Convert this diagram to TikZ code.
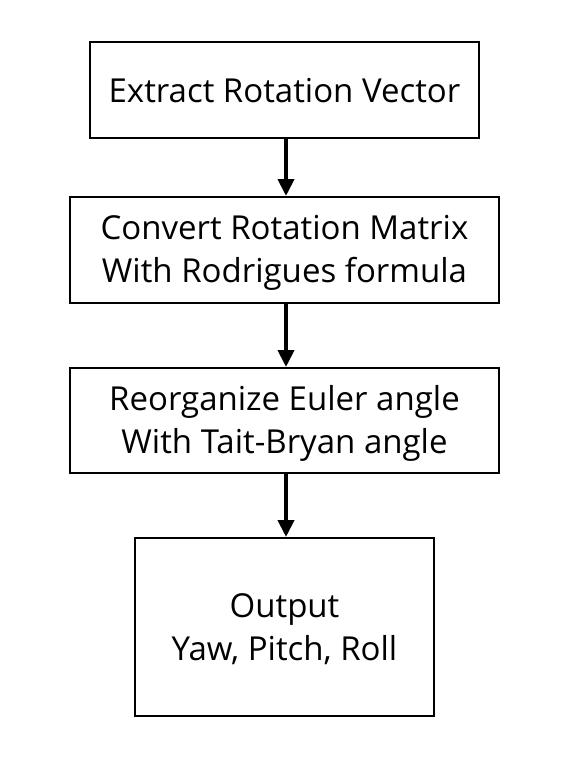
\documentclass[tikz,border=0pt]{standalone}
\usepackage{fontspec}
\setmainfont{Open Sans}
\usetikzlibrary{arrows.meta}
\begin{document}
\begin{tikzpicture}[x=1pt,y=-1pt,
  box/.style={draw=black,line width=2pt,minimum width=#1,inner sep=0pt},
  txt/.style={inner sep=0pt,align=center,font=\fontsize{33}{42.5}\selectfont},
  conn/.style={line width=4pt,-{Triangle[width=16pt,length=17pt]}}]
\useasboundingbox (0,0) rectangle (566,771);
\node[box=389pt,minimum height=96pt] (b1) at (284.5,90) {};
\node[box=429pt,minimum height=106pt] (b2) at (284.5,250) {};
\node[box=429pt,minimum height=105pt] (b3) at (284.5,420.5) {};
\node[box=299pt,minimum height=178pt] (b4) at (284.5,627) {};
\node[txt] (t1) at ([yshift=-1pt]b1.center) {Extract Rotation Vector};
\node[txt] (t2) at ([yshift=-3pt]b2.center) {Convert Rotation Matrix\\With Rodrigues formula};
\node[txt] (t3) at ([yshift=-3pt]b3.center) {Reorganize Euler angle\\With Tait-Bryan angle};
\node[txt] (t4) at ([yshift=-2pt]b4.center) {Output\\Yaw, Pitch, Roll};
\draw[conn] (b1.south) ++(1.5,0) coordinate (s1) -- (s1 |- b2.north);
\draw[conn] (b2.south) ++(1.5,0) coordinate (s2) -- (s2 |- b3.north);
\draw[conn] (b3.south) ++(1.5,0) coordinate (s3) -- (s3 |- b4.north);
\end{tikzpicture}
\end{document}
